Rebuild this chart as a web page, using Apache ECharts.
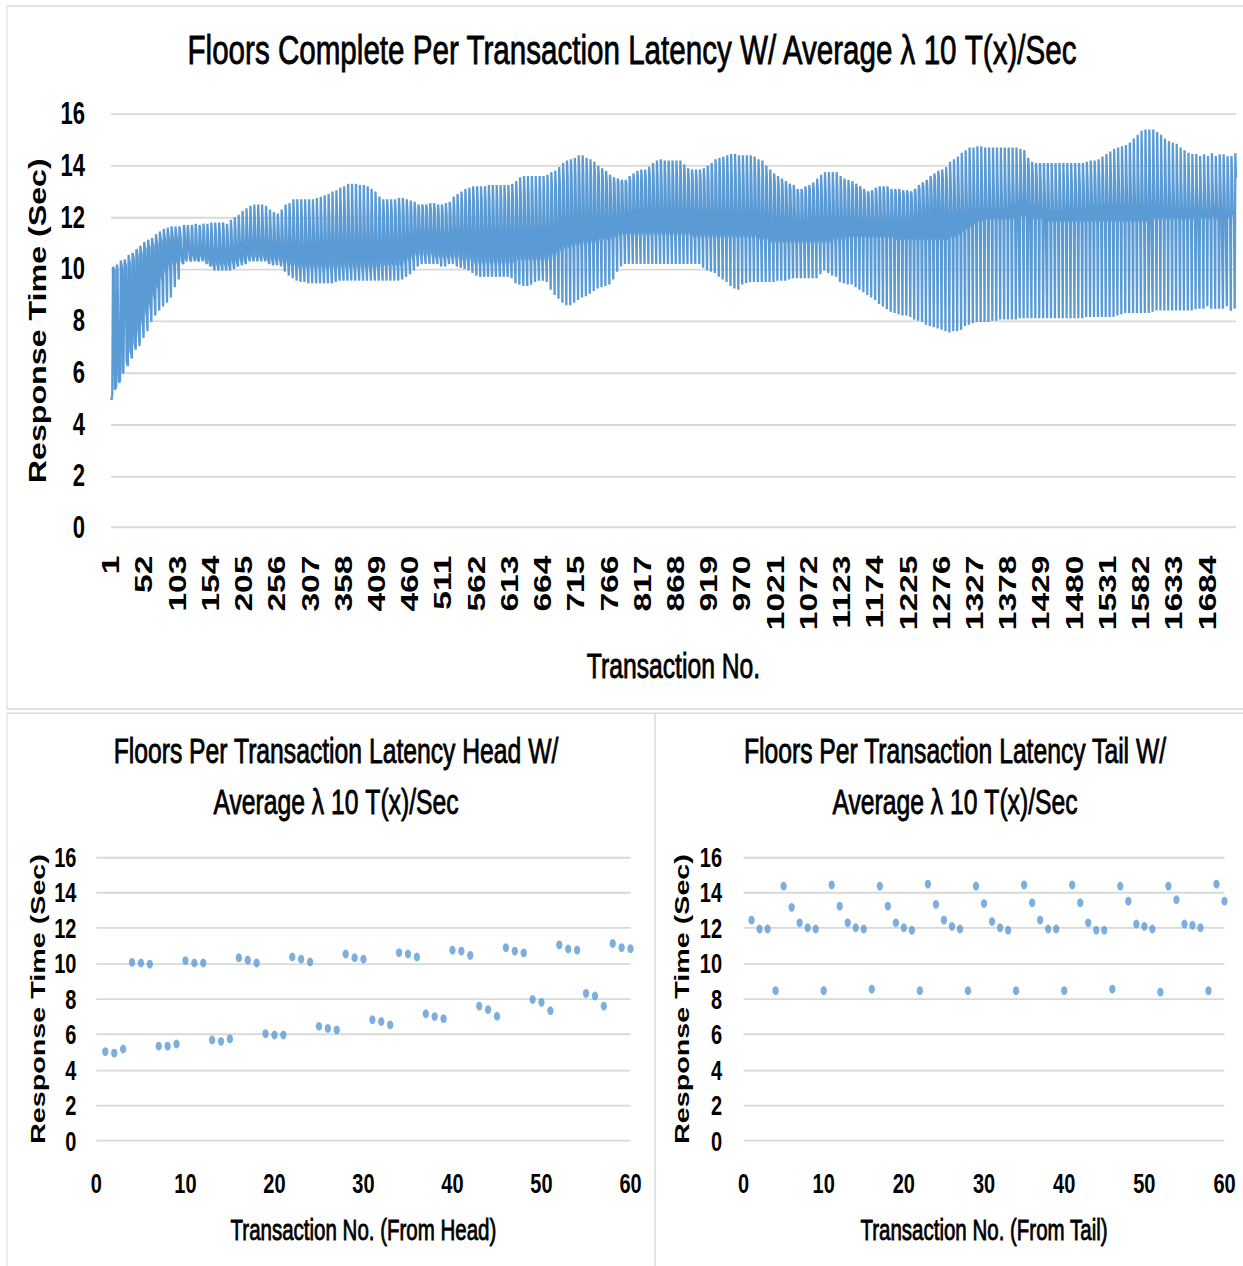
<!DOCTYPE html>
<html>
<head>
<meta charset="utf-8">
<script src="https://cdn.jsdelivr.net/npm/echarts/dist/echarts.min.js"></script>
<style>
html,body{margin:0;padding:0;background:#fff;overflow:hidden;}
#wrap{width:1243px;height:1266px;overflow:hidden;position:relative;background:#fff;}
#chart{width:1243px;height:904px;transform:scaleY(1.40044);transform-origin:0 0;}
</style>
</head>
<body>
<div id="wrap"><div id="chart"></div></div>
<script>
// Response times (sec) of the first 60 transactions (head)
const headValues = [
5.03,4.95,5.18,10.07,10.03,9.97, 5.34,5.34,5.46,10.17,10.03,10.03,
5.69,5.61,5.75,10.33,10.19,10.03, 6.05,5.97,5.97,10.37,10.25,10.09,
6.46,6.34,6.26,10.54,10.33,10.25, 6.83,6.73,6.54,10.62,10.54,10.37,
7.17,7.01,6.89,10.76,10.70,10.46, 7.60,7.40,7.03,10.90,10.70,10.60,
7.97,7.81,7.34,11.05,10.82,10.76, 8.32,8.17,7.60,11.13,10.90,10.84
];

// Response times of transactions 61 .. 1668 (middle of the run)
const midValues = [
8.65,8.5,7.95,11.2,11.0,10.9,
9.0,8.85,8.2,11.35,11.1,11.0,
9.35,9.2,8.4,11.45,11.2,11.1,
9.7,9.5,8.55,11.55,11.3,11.15,
10.0,9.8,8.7,11.6,11.35,11.2,
10.2,10.0,8.9,11.65,11.4,11.2,
10.3,10.1,9.3,11.65,11.4,11.2,
10.3,10.2,9.6,11.65,11.45,11.25,
10.5,10.3,10.3,10.2,11.7,11.5,
10.7,10.4,10.3,10.3,11.7,11.4,
10.8,10.4,10.4,10.3,11.7,11.5,
10.7,10.5,10.4,10.3,11.75,11.4,
10.8,10.4,10.4,10.3,11.7,11.5,
10.8,10.5,10.4,10.3,11.75,11.5,
10.7,10.4,10.3,10.2,11.75,11.4,
10.7,10.3,10.2,10.1,11.8,11.4,
10.6,10.2,10.1,9.95,11.8,11.4,
10.6,10.2,10.1,9.95,11.8,11.4,
10.7,10.2,10.1,9.95,11.8,11.5,
10.6,10.2,10.1,9.95,11.75,11.4,
10.7,10.2,10.2,9.95,11.9,11.5,
10.8,10.3,10.2,10.0,12.0,11.6,
10.8,10.3,10.3,10.1,12.1,11.6,
10.9,10.4,10.3,10.15,12.25,11.7,
10.9,10.4,10.4,10.2,12.35,11.7,
11.0,10.5,10.4,10.3,12.45,11.8,
11.0,10.5,10.4,10.3,12.5,11.8,
11.0,10.5,10.4,10.3,12.5,11.8,
11.0,10.5,10.5,10.3,12.5,11.8,
11.0,10.5,10.4,10.3,12.45,11.8,
10.9,10.4,10.4,10.2,12.3,11.7,
10.9,10.4,10.3,10.15,12.2,11.7,
10.9,10.4,10.3,10.15,12.15,11.7,
10.9,10.4,10.3,10.1,12.3,11.7,
10.9,10.3,10.2,9.9,12.5,11.8,
10.9,10.3,10.2,9.75,12.55,11.9,
10.9,10.2,10.1,9.65,12.7,11.9,
10.9,10.2,10.1,9.55,12.7,11.9,
10.9,10.1,10.0,9.5,12.7,12.0,
10.8,10.1,10.0,9.5,12.7,11.9,
10.9,10.1,10.0,9.45,12.7,12.0,
10.9,10.1,10.0,9.45,12.7,11.9,
10.9,10.1,10.0,9.45,12.75,12.0,
10.9,10.1,10.0,9.45,12.8,12.0,
10.9,10.1,10.0,9.45,12.85,12.1,
10.9,10.1,10.0,9.45,12.9,12.1,
11.0,10.1,10.0,9.45,13.0,12.1,
11.0,10.1,10.0,9.5,13.05,12.2,
11.0,10.1,10.0,9.55,13.15,12.2,
11.0,10.1,10.0,9.55,13.2,12.2,
11.0,10.1,10.0,9.55,13.3,12.2,
11.0,10.1,10.0,9.55,13.3,12.2,
11.0,10.1,10.0,9.55,13.3,12.2,
11.0,10.1,10.0,9.55,13.25,12.2,
11.0,10.1,10.0,9.55,13.25,12.2,
11.0,10.1,10.0,9.55,13.2,12.2,
11.0,10.1,10.0,9.55,13.1,12.1,
11.0,10.1,10.0,9.55,13.0,12.1,
11.0,10.1,10.0,9.55,12.8,12.2,
11.0,10.2,10.0,9.55,12.7,12.2,
11.1,10.2,10.1,9.55,12.7,12.2,
11.1,10.2,10.1,9.55,12.7,12.2,
11.1,10.2,10.1,9.55,12.7,12.2,
11.1,10.2,10.1,9.55,12.75,12.3,
11.1,10.2,10.1,9.6,12.75,12.3,
11.2,10.3,10.2,9.7,12.7,12.3,
11.2,10.4,10.3,9.8,12.65,12.3,
11.3,10.5,10.4,9.95,12.6,12.3,
11.4,10.6,10.5,10.1,12.5,12.3,
11.4,10.6,10.5,10.2,12.5,12.3,
11.4,10.6,10.5,10.2,12.5,12.3,
11.4,10.6,10.5,10.2,12.55,12.3,
11.4,10.6,10.5,10.2,12.55,12.3,
11.3,10.5,10.4,10.2,12.5,12.2,
11.3,10.5,10.4,10.1,12.5,12.2,
11.3,10.5,10.4,10.1,12.55,12.2,
11.3,10.5,10.4,10.2,12.6,12.3,
11.4,10.5,10.4,10.2,12.8,12.4,
11.4,10.5,10.4,10.1,12.9,12.4,
11.4,10.5,10.4,10.05,13.0,12.5,
11.4,10.4,10.3,10.0,13.1,12.5,
11.4,10.4,10.3,9.95,13.15,12.6,
11.4,10.4,10.3,9.85,13.2,12.6,
11.4,10.3,10.2,9.75,13.2,12.6,
11.4,10.3,10.2,9.7,13.2,12.7,
11.4,10.3,10.2,9.7,13.2,12.7,
11.4,10.3,10.2,9.7,13.25,12.7,
11.4,10.3,10.2,9.7,13.25,12.7,
11.4,10.3,10.2,9.7,13.25,12.7,
11.4,10.3,10.2,9.7,13.25,12.7,
11.4,10.3,10.2,9.7,13.25,12.7,
11.4,10.3,10.2,9.7,13.25,12.7,
11.4,10.3,10.2,9.65,13.3,12.8,
11.4,10.3,10.2,9.45,13.4,12.8,
11.5,10.4,10.3,9.4,13.55,12.9,
11.5,10.4,10.3,9.35,13.6,12.9,
11.5,10.4,10.3,9.35,13.6,12.9,
11.5,10.4,10.3,9.4,13.6,12.9,
11.5,10.4,10.3,9.5,13.6,12.9,
11.5,10.4,10.3,9.55,13.6,12.9,
11.5,10.4,10.3,9.55,13.6,12.9,
11.5,10.4,10.3,9.5,13.65,13.0,
11.6,10.5,10.3,9.2,13.75,13.1,
11.7,10.6,10.4,9.0,13.8,13.2,
11.8,10.7,10.5,8.85,13.95,13.3,
11.9,10.8,10.6,8.7,14.1,13.5,
12.0,10.9,10.7,8.6,14.2,13.6,
12.0,10.9,10.8,8.6,14.25,13.6,
12.1,11.0,10.8,8.7,14.3,13.6,
12.1,11.0,10.9,8.8,14.4,13.7,
12.1,11.0,10.9,8.9,14.4,13.7,
12.1,11.1,10.9,8.95,14.3,13.7,
12.1,11.1,10.9,9.05,14.25,13.6,
12.1,11.1,11.0,9.15,14.15,13.6,
12.1,11.1,11.0,9.25,14.0,13.5,
12.1,11.2,11.0,9.3,13.9,13.5,
12.1,11.2,11.1,9.35,13.8,13.4,
12.1,11.2,11.1,9.4,13.65,13.3,
12.1,11.3,11.1,9.6,13.55,13.3,
12.1,11.3,11.2,9.9,13.5,13.3,
12.2,11.4,11.2,10.1,13.45,13.3,
12.2,11.4,11.3,10.2,13.45,13.3,
12.2,11.4,11.3,10.2,13.6,13.4,
12.2,11.4,11.3,10.2,13.7,13.4,
12.3,11.4,11.3,10.2,13.8,13.5,
12.3,11.4,11.3,10.2,13.85,13.5,
12.3,11.4,11.3,10.2,13.85,13.5,
12.3,11.4,11.3,10.2,13.95,13.6,
12.3,11.4,11.3,10.2,14.1,13.6,
12.3,11.4,11.3,10.2,14.2,13.6,
12.3,11.4,11.3,10.2,14.25,13.6,
12.3,11.4,11.3,10.2,14.2,13.6,
12.3,11.4,11.3,10.2,14.2,13.6,
12.3,11.4,11.3,10.2,14.2,13.6,
12.3,11.4,11.3,10.2,14.2,13.6,
12.3,11.4,11.3,10.2,14.2,13.6,
12.3,11.4,11.3,10.2,14.05,13.5,
12.3,11.4,11.3,10.2,13.9,13.5,
12.3,11.4,11.3,10.2,13.85,13.5,
12.2,11.3,11.2,10.2,13.85,13.5,
12.2,11.3,11.2,10.2,13.85,13.5,
12.2,11.3,11.2,10.05,13.9,13.5,
12.2,11.3,11.2,9.95,14.0,13.5,
12.2,11.3,11.2,9.9,14.1,13.6,
12.2,11.3,11.2,9.85,14.25,13.6,
12.2,11.3,11.2,9.7,14.3,13.6,
12.2,11.3,11.2,9.6,14.35,13.6,
12.2,11.3,11.2,9.5,14.4,13.6,
12.2,11.3,11.2,9.35,14.45,13.6,
12.2,11.3,11.2,9.25,14.45,13.6,
12.2,11.3,11.2,9.2,14.4,13.6,
12.2,11.3,11.2,9.4,14.4,13.6,
12.2,11.3,11.2,9.45,14.4,13.6,
12.2,11.3,11.2,9.5,14.4,13.6,
12.2,11.3,11.2,9.5,14.35,13.6,
12.2,11.3,11.2,9.5,14.25,13.5,
12.1,11.2,11.1,9.5,14.2,13.5,
12.1,11.2,11.1,9.5,14.0,13.4,
12.1,11.2,11.1,9.5,13.85,13.3,
12.0,11.1,11.0,9.5,13.7,13.3,
12.0,11.1,11.0,9.55,13.6,13.2,
12.0,11.1,11.0,9.55,13.5,13.2,
12.0,11.1,11.0,9.55,13.4,13.1,
12.0,11.1,11.0,9.6,13.3,13.1,
12.0,11.1,11.0,9.65,13.25,13.0,
11.9,11.1,11.0,9.65,13.1,12.9,
11.9,11.1,11.0,9.65,13.1,12.9,
11.9,11.1,11.0,9.65,13.2,12.9,
11.9,11.1,11.0,9.65,13.25,13.0,
12.0,11.1,11.0,9.65,13.35,13.0,
12.0,11.1,11.0,9.65,13.5,13.1,
12.0,11.1,11.0,9.8,13.65,13.1,
12.0,11.1,11.0,9.95,13.75,13.1,
12.0,11.1,11.0,9.85,13.75,13.1,
12.0,11.1,11.0,9.75,13.75,13.1,
12.0,11.2,11.0,9.7,13.75,13.1,
12.0,11.2,11.1,9.5,13.6,13.1,
12.0,11.2,11.1,9.45,13.5,13.1,
12.0,11.3,11.1,9.4,13.45,13.1,
12.0,11.3,11.2,9.4,13.4,13.1,
12.0,11.3,11.2,9.3,13.3,13.1,
12.0,11.3,11.2,9.2,13.2,13.0,
12.0,11.3,11.2,9.1,13.1,12.9,
12.0,11.3,11.2,9.0,13.0,12.9,
12.0,11.3,11.2,8.9,13.05,12.9,
12.0,11.3,11.2,8.8,13.15,12.9,
12.0,11.3,11.2,8.65,13.2,12.9,
12.0,11.3,11.2,8.55,13.2,12.9,
12.0,11.3,11.2,8.45,13.2,12.9,
12.0,11.3,11.2,8.35,13.1,12.9,
12.0,11.3,11.2,8.3,13.1,12.9,
12.0,11.2,11.1,8.25,13.1,12.9,
12.0,11.2,11.1,8.2,13.05,12.9,
12.0,11.2,11.1,8.2,13.05,12.9,
12.1,11.2,11.1,8.15,13.0,12.9,
12.1,11.2,11.1,8.05,13.1,13.0,
12.2,11.2,11.1,8.0,13.25,13.1,
12.3,11.2,11.1,7.95,13.35,13.2,
12.4,11.2,11.1,7.85,13.45,13.3,
12.5,11.2,11.1,7.8,13.6,13.4,
12.6,11.2,11.1,7.75,13.7,13.5,
12.6,11.2,11.1,7.7,13.8,13.5,
12.5,11.2,11.1,7.65,13.85,13.5,
12.4,11.2,11.1,7.6,13.95,13.4,
12.3,11.2,11.1,7.55,14.15,13.4,
12.3,11.3,11.2,7.6,14.25,13.4,
12.3,11.3,11.2,7.6,14.35,13.4,
12.3,11.4,11.3,7.65,14.5,13.4,
12.3,11.5,11.4,7.8,14.6,13.4,
12.3,11.6,11.5,7.85,14.7,13.4,
12.4,11.7,11.6,7.9,14.7,13.4,
12.4,11.8,11.7,7.95,14.75,13.4,
12.4,11.9,11.8,7.95,14.75,13.4,
12.4,11.9,11.8,7.95,14.7,13.4,
12.4,12.0,11.9,7.95,14.7,13.4,
12.4,12.0,11.9,8.0,14.7,13.4,
12.4,12.0,11.9,8.0,14.7,13.4,
12.4,12.0,11.9,8.05,14.7,13.4,
12.4,12.0,11.9,8.05,14.7,13.4,
12.4,12.0,11.9,8.05,14.7,13.4,
12.5,12.0,11.9,8.05,14.7,13.5,
12.5,12.0,11.9,8.05,14.7,13.6,
12.6,12.0,12.0,8.1,14.65,13.8,
12.7,12.1,12.0,8.1,14.6,13.9,
12.7,12.1,12.0,8.1,14.3,13.9,
12.6,12.0,12.0,8.1,14.15,13.7,
12.5,12.0,11.9,8.1,14.1,13.6,
12.5,12.0,11.9,8.1,14.1,13.5,
12.4,12.0,11.9,8.1,14.1,13.4,
12.4,11.9,11.9,8.1,14.1,13.3,
12.3,11.9,11.8,8.1,14.1,13.2,
12.3,11.9,11.8,8.1,14.1,13.2,
12.3,11.9,11.8,8.1,14.1,13.2,
12.3,11.9,11.8,8.1,14.1,13.2,
12.4,11.9,11.8,8.1,14.1,13.3,
12.4,11.9,11.8,8.1,14.1,13.3,
12.4,11.9,11.8,8.1,14.1,13.4,
12.4,11.9,11.8,8.1,14.1,13.4,
12.4,11.9,11.8,8.1,14.1,13.4,
12.4,11.9,11.8,8.15,14.15,13.5,
12.5,11.9,11.8,8.15,14.2,13.5,
12.5,11.9,11.8,8.15,14.2,13.5,
12.5,11.9,11.8,8.15,14.25,13.6,
12.5,11.9,11.8,8.15,14.35,13.6,
12.5,11.9,11.8,8.15,14.45,13.6,
12.5,11.9,11.8,8.15,14.55,13.6,
12.5,11.9,11.8,8.15,14.65,13.6,
12.5,11.9,11.8,8.2,14.7,13.6,
12.5,11.9,11.8,8.25,14.75,13.6,
12.5,11.9,11.8,8.3,14.8,13.6,
12.5,11.9,11.8,8.3,14.9,13.6,
12.5,11.9,11.8,8.3,15.05,13.6,
12.5,11.9,11.8,8.3,15.2,13.6,
12.5,11.9,11.8,8.3,15.35,13.6,
12.5,11.9,11.8,8.3,15.4,13.6,
12.5,11.9,11.8,8.3,15.4,13.6,
12.5,11.9,11.9,8.35,15.4,13.6,
12.5,12.0,11.9,8.4,15.3,13.6,
12.5,12.0,11.9,8.4,15.2,13.5,
12.4,12.0,11.9,8.4,15.05,13.5,
12.4,12.0,11.9,8.4,14.95,13.4,
12.4,12.0,11.9,8.4,14.9,13.4,
12.4,12.0,11.9,8.4,14.85,13.4,
12.4,12.0,11.9,8.4,14.7,13.3,
12.4,12.0,11.9,8.4,14.6,13.3,
12.4,12.0,11.9,8.4,14.5,13.3,
12.4,12.0,11.9,8.4,14.45,13.2,
12.4,12.0,11.9,8.45,14.45,13.2
];

// Response times of the last 60 transactions (tail)
const tailValues = [
12.45,11.95,11.95,8.47,14.37,13.17, 12.30,12.02,11.95,8.47,14.44,13.24,
12.30,12.02,11.95,8.56,14.37,13.24, 12.30,12.02,11.88,8.47,14.48,13.34,
12.45,12.10,11.95,8.47,14.37,13.39, 12.37,12.02,11.88,8.47,14.44,13.43,
12.45,11.95,11.95,8.47,14.44,13.43, 12.30,11.88,11.88,8.56,14.37,13.52,
12.23,12.10,11.95,8.39,14.37,13.60, 12.23,12.16,12.02,8.47,14.48,13.52
];

const titles = {
  main: 'Floors Complete Per Transaction Latency W/ Average \u03bb 10 T(x)/Sec',
  head: 'Floors Per Transaction Latency Head W/\nAverage \u03bb 10 T(x)/Sec',
  tail: 'Floors Per Transaction Latency Tail W/\nAverage \u03bb 10 T(x)/Sec'
};
const yName = 'Response Time (Sec)';
const xNames = ['Transaction No.', 'Transaction No. (From Head)', 'Transaction No. (From Tail)'];

const allValues = headValues.concat(midValues, tailValues);
const transactionNos = allValues.map((v, i) => String(i + 1));
const headPoints = headValues.map((v, i) => [i + 1, v]);
const tailPoints = tailValues.map((v, i) => [i + 1, v]);

const FONT = '"Liberation Sans", Arial, sans-serif';
const BLUE = '#5B9BD5';
const GRID = '#D9D9D9';
const heavy = {textBorderColor: '#000', textBorderWidth: 0.6};

function valueY(gridIndex, margin, nameGap, labelSize, nameSize) {
  return {
    type: 'value', gridIndex: gridIndex, min: 0, max: 16, interval: 2,
    axisLine: {show: false}, axisTick: {show: false},
    splitLine: {lineStyle: {color: GRID, width: 1.3}},
    axisLabel: {margin: margin, fontFamily: FONT, fontWeight: 'bold', fontSize: labelSize, color: '#000'},
    name: yName, nameLocation: 'middle', nameRotate: 90, nameGap: nameGap,
    nameTextStyle: {fontFamily: FONT, fontWeight: 'bold', fontSize: nameSize, color: '#000'}
  };
}
function valueX(gridIndex, name) {
  return {
    type: 'value', gridIndex: gridIndex, min: 0, max: 60, interval: 10,
    axisLine: {show: false}, axisTick: {show: false}, splitLine: {show: false},
    axisLabel: {margin: 20, fontFamily: FONT, fontWeight: 'bold', fontSize: 20, color: '#000'},
    name: name, nameLocation: 'middle', nameGap: 53,
    nameTextStyle: Object.assign({fontFamily: FONT, fontSize: 20.5, color: '#000'}, heavy)
  };
}

const chart = echarts.init(document.getElementById('chart'), null, {renderer: 'svg', width: 1243, height: 904});
chart.setOption({
  animation: false,
  backgroundColor: '#fff',
  title: [
    {text: titles.main, left: 627, top: 15.5, textAlign: 'center',
     textStyle: Object.assign({fontFamily: FONT, fontSize: 29.6, fontWeight: 'normal', color: '#000', lineHeight: 30}, heavy)},
    {text: titles.head, left: 331, top: 513.5, textAlign: 'center',
     textStyle: Object.assign({fontFamily: FONT, fontSize: 24.7, fontWeight: 'normal', color: '#000', lineHeight: 36}, heavy)},
    {text: titles.tail, left: 950, top: 513.5, textAlign: 'center',
     textStyle: Object.assign({fontFamily: FONT, fontSize: 24.7, fontWeight: 'normal', color: '#000', lineHeight: 36}, heavy)}
  ],
  graphic: [
    {type: 'rect', silent: true, z: -10, shape: {x: 7, y: 4.3, width: 1240, height: 502}, style: {fill: 'none', stroke: GRID, lineWidth: 1}},
    {type: 'rect', silent: true, z: -10, shape: {x: 7, y: 509.3, width: 648, height: 420}, style: {fill: 'none', stroke: GRID, lineWidth: 1}},
    {type: 'rect', silent: true, z: -10, shape: {x: 655, y: 509.3, width: 600, height: 420}, style: {fill: 'none', stroke: GRID, lineWidth: 1}}
  ],
  grid: [
    {left: 111, top: 81.4, width: 1125, height: 295.3},
    {left: 96.4, top: 612.1, width: 534.1, height: 202.5},
    {left: 743.5, top: 612.1, width: 481, height: 202.5}
  ],
  xAxis: [
    {type: 'category', gridIndex: 0, data: transactionNos, boundaryGap: false,
     axisLine: {show: false}, axisTick: {show: false}, splitLine: {show: false},
     axisLabel: {interval: 50, rotate: 90, margin: 20, fontFamily: FONT, fontWeight: 'bold', fontSize: 24, color: '#000'},
     name: xNames[0], nameLocation: 'middle', nameGap: 86,
     nameTextStyle: Object.assign({fontFamily: FONT, fontSize: 24.7, color: '#000'}, heavy)},
    valueX(1, xNames[1]),
    valueX(2, xNames[2])
  ],
  yAxis: [
    valueY(0, 26, 60, 22, 23),
    valueY(1, 20, 48, 20, 20.5),
    valueY(2, 21.5, 51, 20, 20.5)
  ],
  series: [
    {type: 'line', xAxisIndex: 0, yAxisIndex: 0, data: allValues, showSymbol: false, symbol: 'none',
     lineStyle: {color: BLUE, width: 2.3}, itemStyle: {color: BLUE}},
    {type: 'scatter', xAxisIndex: 1, yAxisIndex: 1, data: headPoints, symbolSize: 6.3,
     itemStyle: {color: BLUE}},
    {type: 'scatter', xAxisIndex: 2, yAxisIndex: 2, data: tailPoints, symbolSize: 6.3,
     itemStyle: {color: BLUE}}
  ]
});
</script>
</body>
</html>
